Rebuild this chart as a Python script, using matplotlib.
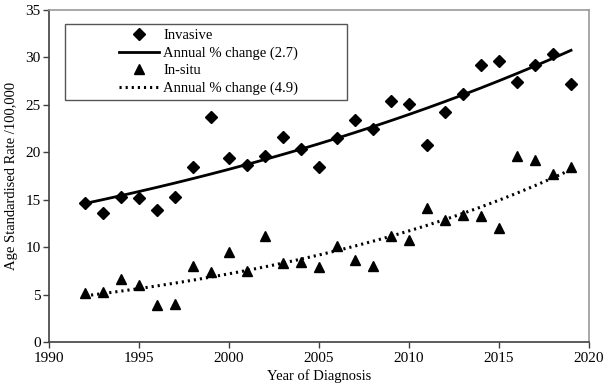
import numpy as np
import matplotlib
matplotlib.use("Agg")
import matplotlib.pyplot as plt
from matplotlib.patches import Rectangle
from matplotlib.lines import Line2D

years = list(range(1992, 2020))
invasive = [14.7, 13.6, 15.3, 15.2, 13.9, 15.3, 18.5, 23.7, 19.4, 18.7,
            19.6, 21.6, 20.3, 18.5, 21.5, 23.4, 22.5, 25.4, 25.1, 20.8,
            24.2, 26.1, 29.2, 29.6, 27.4, 29.2, 30.4, 27.2]
insitu = [5.2, 5.3, 6.6, 6.0, 3.9, 4.0, 8.0, 7.4, 9.5, 7.5,
          11.2, 8.3, 8.4, 7.9, 10.1, 8.6, 8.0, 11.2, 10.8, 14.1,
          12.9, 13.4, 13.3, 12.0, 19.6, 19.2, 17.7, 18.5]
labels = ["Invasive", "Annual % change (2.7)", "In-situ", "Annual % change (4.9)"]
xticks = [1990, 1995, 2000, 2005, 2010, 2015, 2020]
yticks = [0, 5, 10, 15, 20, 25, 30, 35]

plt.rcParams['font.family'] = ['Liberation Serif', 'DejaVu Serif']
plt.rcParams['font.size'] = 10

x = np.array(years, dtype=float)

def loglin_fit(y):
    b, a = np.polyfit(x - x[0], np.log(np.array(y)), 1)
    return np.exp(a + b * (x - x[0]))

fig = plt.figure(figsize=(6.08, 3.91), dpi=100)
ax = fig.add_axes([49/608, 1-342/391, 540/608, 332/391])

ax.plot(x, invasive, linestyle='none', marker='D', ms=5.8, color='black')
ax.plot(x, loglin_fit(invasive), '-', color='black', lw=2.0)
ax.plot(x, insitu, linestyle='none', marker='^', ms=7, color='black')
ax.plot(x, loglin_fit(insitu), color='black', lw=2.2, linestyle=(0, (0.7, 1.3)))

ax.set_xlim(1990, 2020)
ax.set_ylim(0, 35)
ax.set_xticks(xticks)
ax.set_yticks(yticks)
ax.tick_params(direction='out', length=4, width=1, colors='black', labelsize=11)
ax.tick_params(axis='x', pad=3)
ax.tick_params(axis='y', pad=2)
for s in ['left', 'bottom']:
    ax.spines[s].set_color('#404040')
    ax.spines[s].set_linewidth(1.2)
for s in ['top', 'right']:
    ax.spines[s].set_color('#999999')
    ax.spines[s].set_linewidth(1.2)
ax.tick_params(color='#404040')

ax.set_xlabel("Year of Diagnosis", fontsize=10.5, labelpad=3)
ax.set_ylabel("Age Standardised Rate /100,000", fontsize=10.5, labelpad=5)

# legend box
bx0, bx1 = (65-49)/540, (347-49)/540
by0, by1 = (342-100)/332, (342-24)/332
ax.add_patch(Rectangle((bx0, by0), bx1-bx0, by1-by0, transform=ax.transAxes,
                       facecolor='white', edgecolor='#555555', lw=1.0, zorder=4))
handles = [Line2D([], [], linestyle='none', marker='D', ms=5.8, color='black'),
           Line2D([], [], color='black', lw=2.0),
           Line2D([], [], linestyle='none', marker='^', ms=7, color='black'),
           Line2D([], [], color='black', lw=2.2, linestyle=(0, (0.7, 1.3)))]
leg = ax.legend(handles, labels, loc='center', bbox_to_anchor=((bx0+bx1)/2 + 0.005, (by0+by1)/2),
                frameon=False, fontsize=10.5, handlelength=2.7, handletextpad=0.3,
                labelspacing=0.3, borderpad=0.2)
leg.set_zorder(5)

fig.savefig("out.png", dpi=100)
